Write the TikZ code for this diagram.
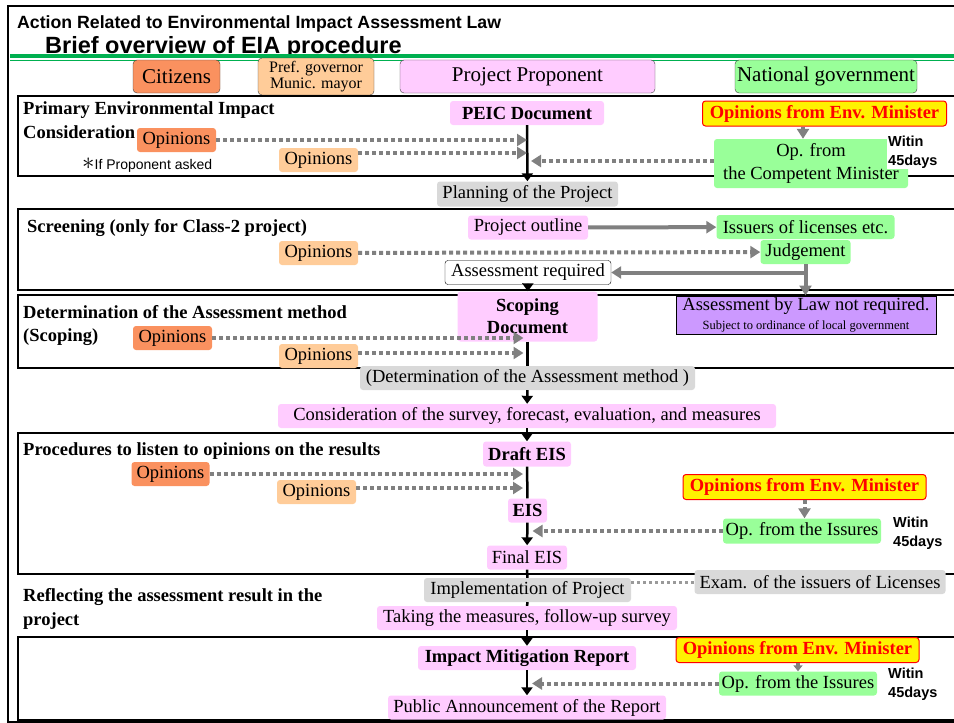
\documentclass[tikz,border=0pt]{standalone}
\usepackage{fontspec}
\setmainfont{Liberation Serif}
\setsansfont{Liberation Sans}
\usetikzlibrary{arrows.meta}

\definecolor{citcol}{RGB}{250,145,95}
\definecolor{prefcol}{RGB}{255,204,153}
\definecolor{propcol}{RGB}{255,204,255}
\definecolor{govcol}{RGB}{153,255,153}
\definecolor{grycol}{RGB}{217,217,217}
\definecolor{lawcol}{RGB}{204,153,255}
\definecolor{rulecol}{RGB}{0,176,80}
\definecolor{dotcol}{RGB}{128,128,128}

\tikzset{
  every node/.style={inner sep=0pt},
  colhead/.style={draw=black!75, rounded corners=4pt, minimum height=33pt, font=\fontsize{21}{22}\selectfont},
  tag/.style={rounded corners=3pt, minimum height=24pt, font=\fontsize{18.5}{22}\selectfont},
  citz/.style={tag, fill=citcol, minimum width=79pt},
  pref/.style={tag, fill=prefcol, minimum width=79pt},
  prop/.style={tag, fill=propcol},
  govt/.style={tag, fill=govcol},
  grey/.style={tag, fill=grycol},
  envmin/.style={tag, draw=red, line width=1pt, fill=yellow, text=red, minimum height=25pt, minimum width=243pt,
    font=\fontsize{18.5}{22}\selectfont\bfseries},
  stage/.style={line width=2.5pt},
  heading/.style={font=\fontsize{18.5}{24}\selectfont\bfseries, align=left},
  days/.style={font=\fontsize{14.5}{19}\selectfont\sffamily\bfseries, align=left, fill=white, inner sep=1pt, anchor=west},
  dots/.style={dotcol, line width=4pt, dash pattern=on 4pt off 3pt, -{Triangle[length=10pt,width=12pt]}},
  gline/.style={dotcol, line width=4pt, -{Triangle[length=10pt,width=12pt]}},
  flow/.style={line width=2.5pt, -{Triangle[length=8pt,width=11pt]}},
  link/.style={line width=2.5pt},
}

\begin{document}
\begin{tikzpicture}[x=1pt,y=-1pt]
    \useasboundingbox (0,0) rectangle (954,723);
    % frame and title
    \draw[line width=2.5pt] (8,6) rectangle (962,722);
    \node[anchor=base west, font=\fontsize{17.7}{20}\selectfont\sffamily\bfseries] (law) at (17,28) {Action Related to Environmental Impact Assessment Law};
    \node[anchor=base west, font=\fontsize{23.5}{26}\selectfont\sffamily\bfseries] (brief) at (45,53) {Brief overview of EIA procedure};
    \draw[rulecol, line width=4pt] (10,55.5) -- (956,55.5);
    \draw[rulecol, line width=1.5pt] (10,60.5) -- (956,60.5);

    % column heads
    \node[colhead, fill=citcol, minimum width=87pt] (citizens) at (176.5,76.5) {Citizens};
    \node[colhead, fill=prefcol, minimum width=116pt, minimum height=37pt, align=center,
      font=\fontsize{16}{16}\selectfont] (mayor) at (316,76.5) {Pref. governor\\Munic. mayor};
    \node[colhead, fill=propcol, minimum width=255pt] (proponent) at (527.5,76.5) {Project Proponent};
    \node[colhead, fill=govcol, minimum width=182pt] (natgov) at (826,76.5) {National government};

    % stage frames
    \draw[stage] (18,96) rectangle (962,176);
    \draw[stage] (18,209) rectangle (962,290);
    \draw[stage] (18,295) rectangle (962,368);
    \draw[stage] (18,433) rectangle (962,574);
    \draw[stage] (18,637) rectangle (962,720);

    % primary environmental impact consideration
    \node[heading, anchor=north west] (primary) at (23,101) {Primary Environmental Impact\\Consideration};
    \node[prop, font=\fontsize{18.5}{22}\selectfont\bfseries, minimum width=154pt] (peic) at (527,113) {PEIC Document};
    \node[envmin, minimum width=244pt] (envmin1) at (824.5,113.5) {Opinions from Env. Minister};
    \node[govt, minimum width=194pt, minimum height=49pt, align=center, font=\fontsize{18.5}{23}\selectfont] (compmin) at (811,163.5) {Op. from\\the Competent Minister};
    \node[days] (days1) at (887,152) {Witin\\45days};
    \node[citz] (opcit1) at (176.5,140) {Opinions};
    \node[pref] (oppref1) at (318.5,160) {Opinions};
    \node[anchor=west, font=\fontsize{14}{16}\selectfont\sffamily] (asked) at (82,165) {{\fontsize{24}{24}\selectfont$\ast$}If Proponent asked};
    \node[grey, minimum width=181pt, minimum height=25pt] (planning) at (527.5,194) {Planning of the Project};
    \coordinate (envdrop1) at (803,0);

    % screening
    \node[heading, anchor=west] (screening) at (27,228) {Screening (only for Class-2 project)};
    \node[prop, minimum width=120pt] (outline) at (528,227.5) {Project outline};
    \node[govt, minimum width=178pt] (issuers) at (805.5,227) {Issuers of licenses etc.};
    \node[govt, minimum width=90pt] (judgement) at (805.5,252) {Judgement};
    \node[pref] (oppref2) at (318.5,253) {Opinions};
    \node[tag, draw, fill=white, minimum width=166pt] (required) at (528,272.5) {Assessment required};
    \node[draw, line width=1pt, fill=lawcol, minimum width=260pt, minimum height=38pt, align=center,
      font=\fontsize{18.5}{19}\selectfont] (notreq) at (806,315)
      {Assessment by Law not required.\\{\fontsize{12.5}{14}\selectfont Subject to ordinance of local government}};

    % scoping
    \node[heading, anchor=north west, font=\fontsize{18.5}{23}\selectfont\bfseries] (scopetitle) at (23,305) {Determination of the Assessment method\\(Scoping)};
    \node[prop, minimum width=140pt, minimum height=50pt, align=center, font=\fontsize{18.5}{22}\selectfont\bfseries] (scoping) at (527.5,316.5) {Scoping\\Document};
    \node[citz] (opcit3) at (172.5,338) {Opinions};
    \node[pref] (oppref3) at (318.5,356) {Opinions};
    \node[grey, minimum width=335pt] (method) at (527.5,378) {(Determination of the Assessment method )};
    \node[prop, minimum width=498pt] (survey) at (527,416) {Consideration of the survey, forecast, evaluation, and measures};

    % opinions on the results
    \node[heading, anchor=base west] (listen) at (23,455) {Procedures to listen to opinions on the results};
    \node[prop, minimum width=88pt, minimum height=25pt, font=\fontsize{18.5}{22}\selectfont\bfseries] (draft) at (527,454) {Draft EIS};
    \node[citz, minimum width=78pt] (opcit4) at (170.5,474) {Opinions};
    \node[pref] (oppref4) at (316.5,492) {Opinions};
    \node[prop, minimum width=39pt, font=\fontsize{18.5}{22}\selectfont\bfseries] (eis) at (527.5,510.5) {EIS};
    \node[envmin] (envmin4) at (804.5,487) {Opinions from Env. Minister};
    \node[govt, minimum width=158pt, minimum height=25pt] (issures4) at (802,531) {Op. from the Issures};
    \node[days] (days4) at (892,533) {Witin\\45days};
    \node[prop, minimum width=80pt] (final) at (527,557.5) {Final EIS};

    % reflecting the result
    \node[grey, minimum width=207pt] (implement) at (527.5,590) {Implementation of Project};
    \node[grey, minimum width=251pt] (exam) at (820,582) {Exam. of the issuers of Licenses};
    \node[heading, anchor=north west] (reflect) at (23,588) {Reflecting the assessment result in the\\project};
    \node[prop, minimum width=300pt] (measures) at (527,618) {Taking the measures, follow-up survey};

    % mitigation report
    \node[prop, minimum width=218pt, font=\fontsize{18.5}{22}\selectfont\bfseries] (report) at (527,658) {Impact Mitigation Report};
    \node[envmin] (envmin5) at (797.5,650) {Opinions from Env. Minister};
    \node[govt, minimum width=158pt] (issures5) at (798,683.5) {Op. from the Issures};
    \node[days] (days5) at (887,684) {Witin\\45days};
    \node[prop, minimum width=278pt] (public) at (527,707.5) {Public Announcement of the Report};

    % main flow
    \draw[flow] (peic) -- (planning);
    \draw[flow] (required) -- (scoping);
    \draw[link] (scoping) -- (method);
    \draw[flow] (method) -- (survey);
    \draw[flow] (survey) -- (draft);
    \draw[link] (draft) -- (eis);
    \draw[flow] (eis) -- (final);
    \draw[link] (final) -- (implement);
    \draw[link] (implement) -- (measures);
    \draw[flow] (measures) -- (report);
    \draw[flow] (report) -- (public);

    % opinions
    \draw[dots] (opcit1.east) -- (opcit1.east -| peic);
    \draw[dots] ([yshift=7pt]oppref1.east) -- ([yshift=7pt]oppref1.east -| peic);
    \draw[dots] ([yshift=2.5pt]compmin.west) -- ([yshift=2.5pt,xshift=4pt]compmin.west -| peic);
    \draw[dots] (envmin1.south -| envdrop1) -- (compmin.north -| envdrop1);
    \draw[gline] (outline) -- (issuers);
    \draw[dots] (oppref2) -- (judgement);
    \draw[gline] (judgement.south) |- (required.east);
    \draw[gline] (judgement.south) -- (judgement.south |- notreq.north);
    \draw[dots] (opcit3.east) -- ([xshift=-4pt]opcit3.east -| scoping);
    \draw[dots] ([yshift=3pt]oppref3.east) -- ([yshift=3pt,xshift=-4pt]oppref3.east -| scoping);
    \draw[dots] (opcit4.east) -- ([xshift=-4pt]opcit4.east -| draft);
    \draw[dots] ([yshift=4pt]oppref4.east) -- ([yshift=4pt,xshift=-4pt]oppref4.east -| draft);
    \draw[dots] (envmin4.south) -- (envmin4.south |- issures4.north);
    \draw[dots] (issures4.west) -- ([xshift=5pt]issures4.west -| eis);
    \draw[dotcol!80, line width=3pt, dash pattern=on 3pt off 3pt] ([yshift=8pt]implement.east) -- (exam.west);
    \draw[dots, -{Triangle[length=6pt,width=9pt]}] (envmin5.south -| issures5) -- (issures5.north);
    \draw[dots] (issures5.west) -- ([xshift=5pt]issures5.west -| report);
\end{tikzpicture}
\end{document}
